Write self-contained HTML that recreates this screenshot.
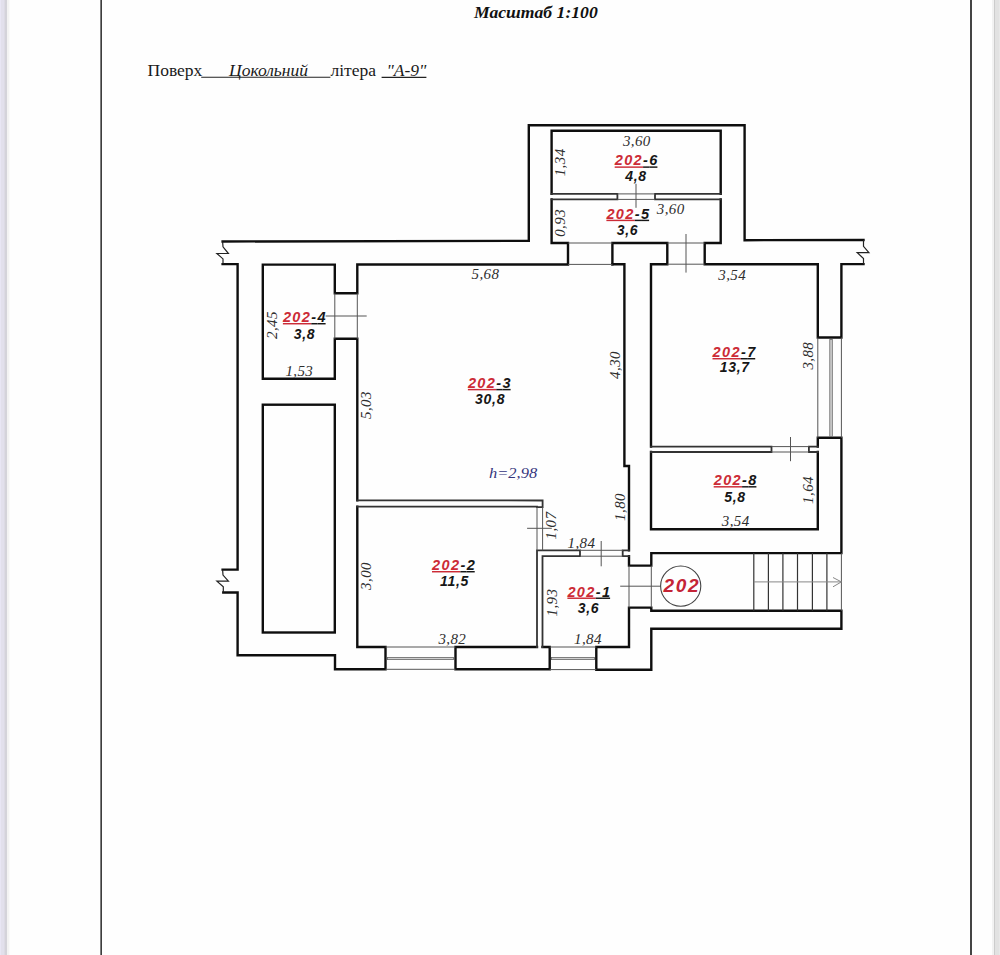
<!DOCTYPE html>
<html><head><meta charset="utf-8"><title>Plan</title>
<style>
html,body{margin:0;padding:0;background:#fefefe;}
body{width:1000px;height:955px;overflow:hidden;position:relative;}
svg{position:absolute;left:0;top:0;}
.w{fill:none;stroke:#0e0e0e;stroke-width:2.4;stroke-linejoin:miter;stroke-linecap:square;}
.p{fill:none;stroke:#333;stroke-width:1.8;stroke-linejoin:miter;stroke-linecap:square;}
.t{fill:none;stroke:#555;stroke-width:1;}
.z{fill:none;stroke:#222;stroke-width:1.2;stroke-linejoin:miter;}
.dim{font-family:"Liberation Serif",serif;font-style:italic;font-size:15px;letter-spacing:0.4px;fill:#2e2e2e;}
.lab{font-family:"Liberation Sans",sans-serif;font-style:italic;font-weight:bold;font-size:14.5px;letter-spacing:1.4px;}
.lab tspan{text-decoration:underline;}
.ar{font-size:14px;letter-spacing:0.7px;}
.red{fill:#cc2b36;}
.blk{fill:#161616;}
</style></head>
<body>
<svg width="1000" height="955" viewBox="0 0 1000 955">
<!-- page edges -->
<rect x="0" y="0" width="1" height="955" fill="#e8e6f4"/>
<rect x="1" y="0" width="3" height="955" fill="#e2e0ec"/>
<rect x="4" y="0" width="1" height="955" fill="#dcdae4"/>
<rect x="5" y="0" width="2" height="955" fill="#d4d3da"/>
<rect x="7" y="0" width="2" height="955" fill="#f3f3f3"/>
<rect x="9" y="0" width="1" height="955" fill="#fafafa"/>
<rect x="992" y="0" width="2" height="955" fill="#f2f2f2"/>
<rect x="994" y="0" width="1" height="955" fill="#cccccc"/>
<rect x="995" y="0" width="4" height="955" fill="#e2e2e2"/>
<rect x="999" y="0" width="1" height="955" fill="#e8e8e8"/>
<rect x="100.4" y="0" width="1.5" height="955" fill="#2a2a2a"/>
<rect x="970" y="0" width="2" height="955" fill="#444"/>

<!-- header -->
<text transform="translate(474,18.2) scale(1.09,1)" font-family="Liberation Serif" font-weight="bold" font-style="italic" font-size="16.2" fill="#111">Масштаб 1:100</text>
<text x="147.5" y="75.6" font-family="Liberation Serif" font-size="17.5" fill="#1a1a1a">Поверх</text>
<text x="229" y="75.6" font-family="Liberation Serif" font-style="italic" font-size="17.5" fill="#1a1a1a">Цокольний</text>
<text x="330.5" y="75.6" font-family="Liberation Serif" font-size="17.5" fill="#1a1a1a">літера</text>
<text x="386.5" y="75.6" font-family="Liberation Serif" font-style="italic" font-size="17.5" fill="#1a1a1a">"А-9"</text>
<line x1="201.2" y1="77.2" x2="330.4" y2="77.2" stroke="#222" stroke-width="1.1"/>
<line x1="381.6" y1="77.4" x2="426.4" y2="77.4" stroke="#222" stroke-width="1.1"/>

<!-- thick walls -->
<path class="w" d="M222.6,241.5 L528.8,240.8 L528.8,125.2 L744.6,125.1 L744.6,240.2 L863.5,240.0"/>
<path class="w" d="M863.5,264.1 L841.4,264.1 L841.4,337.5 L817.8,337.5 L817.8,264.2 L704.7,264.2 L704.7,243 L720.7,243 L720.7,199.4"/>
<path class="w" d="M720.7,193.9 L720.7,130.7 L551.6,130.7 L551.6,193.9"/>
<path class="w" d="M551.6,199.4 L551.6,243 L568,243 L568,264.5 L357.3,264.5 L357.3,293.3 L334.8,293.3 L334.8,264.6 L262.8,264.6 L262.8,378.8 L334.8,378.8 L334.8,338.8 L357.3,338.8 L357.3,500.3"/>
<path class="w" d="M222.6,264.1 L237.6,264.1 L237.6,569.6 L222.6,569.6"/>
<path class="w" d="M223.3,592.5 L237.6,592.5 L237.6,655.3 L335,655.3 L335,669.3 L385.5,669.3 L385.5,647 L357.3,647 L357.3,506.6"/>
<rect class="w" x="262.8" y="404.7" width="72" height="227.8"/>
<path class="w" d="M537,647 L455.5,647 L455.5,669.3 L549.7,669.3 L549.7,647 L542.5,647"/>
<path class="w" d="M612.4,264.2 L612.4,243 L667.3,243 L667.3,264.2 L651,264.2 L651,446.6"/>
<path class="w" d="M651,452 L651,529.2 L817.8,529.2 L817.8,452"/>
<path class="w" d="M817.8,446.6 L817.8,437.8 L841.4,437.8 L841.4,553.1 L651.3,553.1 L651.3,565.6 L629,565.6 L629,556.2"/>
<path class="w" d="M629,550.3 L629,466 L624.4,466 L624.4,264.2 L612.4,264.2"/>
<path class="w" d="M629,607.6 L651.3,607.6 L651.3,610.7 L841.4,610.7 L841.4,628.8 L651.3,628.8 L651.3,669.8 L596.3,669.8 L596.3,647 L629,647 Z"/>
<!-- partitions -->
<path class="p" d="M720.7,199.4 L655,199.4 L655,193.9 L720.7,193.9"/>
<path class="p" d="M551.6,193.9 L617.4,193.9 L617.4,199.4 L551.6,199.4"/>
<path class="p" d="M357.3,500.3 L542.6,500.5 L542.6,507.2 L537,507.2"/>
<path class="p" d="M357.3,506.6 L537,506.6"/>
<path class="p" d="M651,446.6 L771.5,446.6 L771.5,452 L651,452"/>
<path class="p" d="M817.8,446.6 L808.9,446.6 L808.9,452 L817.8,452"/>
<path class="p" d="M537,647 L537,550.3 L580,550.3 L580,556.2 L542.5,556.2 L542.5,647"/>
<path class="p" d="M629,550.3 L622.7,550.3 L622.7,556.2 L629,556.2"/>

<!-- break zigzags -->
<path class="z" d="M222.6,241.5 L223,246.8 L228.4,253.5 L216.9,253.5 L223,258.9 L223,264.1"/>
<path class="z" d="M863.5,240 L863.5,246.3 L868.9,252.6 L857.2,252.6 L863.5,258.5 L863.5,264.1"/>
<path class="z" d="M222.6,569.6 L223,575.1 L228.4,581.2 L216.9,581.2 L223.3,586.8 L223.3,592.5"/>

<!-- thin door/window lines -->
<g class="t">
<line x1="617.4" y1="193.9" x2="655" y2="193.9"/><line x1="617.4" y1="199.4" x2="655" y2="199.4"/>
<line x1="636" y1="183.8" x2="636" y2="207.8"/>
<line x1="568" y1="243" x2="612.4" y2="243"/><line x1="568" y1="264.4" x2="612.4" y2="264.4"/>
<line x1="667.3" y1="243" x2="704.7" y2="243"/><line x1="667.3" y1="264.2" x2="704.7" y2="264.2"/>
<line x1="686" y1="234" x2="686" y2="272.6"/>
<line x1="334.8" y1="293.3" x2="334.8" y2="338.8"/><line x1="357.3" y1="293.3" x2="357.3" y2="338.8"/>
<line x1="325.6" y1="316" x2="366.7" y2="316"/>
<line x1="771.5" y1="446.6" x2="808.9" y2="446.6"/><line x1="771.5" y1="452" x2="808.9" y2="452"/>
<line x1="790.5" y1="437" x2="790.5" y2="461.2"/>
<line x1="537" y1="507.2" x2="537" y2="550.3"/><line x1="542.6" y1="507.2" x2="542.6" y2="550.3"/>
<line x1="527.1" y1="528.3" x2="551.8" y2="528.3"/>
<line x1="580" y1="550.3" x2="622.7" y2="550.3"/><line x1="580" y1="556.2" x2="622.7" y2="556.2"/>
<line x1="601.2" y1="541" x2="601.2" y2="566.3"/>
<line x1="629" y1="565.6" x2="629" y2="607.6"/><line x1="651.3" y1="565.6" x2="651.3" y2="607.6"/>
<line x1="620.2" y1="586.2" x2="660.6" y2="586.2"/>
<line x1="385.5" y1="647" x2="455.5" y2="647"/><line x1="385.5" y1="669.3" x2="455.5" y2="669.3"/>
<line x1="549.7" y1="647" x2="596.3" y2="647"/><line x1="549.7" y1="669.6" x2="596.3" y2="669.6"/>
<line x1="817.8" y1="337.5" x2="817.8" y2="437.8"/><line x1="841.4" y1="337.5" x2="841.4" y2="437.8"/>
<line x1="841.4" y1="553.1" x2="841.4" y2="610.7"/>
</g>
<!-- window glass -->
<rect x="387.5" y="657.4" width="66" height="2.2" fill="#d0d0d0" stroke="#666" stroke-width="0.8"/>
<rect x="551.5" y="657.4" width="43" height="2.2" fill="#d0d0d0" stroke="#666" stroke-width="0.8"/>
<rect x="829.8" y="339.5" width="2.5" height="97" fill="#d0d0d0" stroke="#666" stroke-width="0.8"/>

<!-- stairs -->
<g stroke="#333" stroke-width="1.2">
<line x1="753.8" y1="553.1" x2="753.8" y2="610.7"/>
<line x1="768.4" y1="553.1" x2="768.4" y2="610.7"/>
<line x1="782.9" y1="553.1" x2="782.9" y2="610.7"/>
<line x1="797.5" y1="553.1" x2="797.5" y2="610.7"/>
<line x1="812.4" y1="553.1" x2="812.4" y2="610.7"/>
<line x1="826.9" y1="553.1" x2="826.9" y2="610.7"/>
</g>
<g stroke="#888" stroke-width="1" fill="none">
<line x1="753.8" y1="581.9" x2="841.4" y2="581.9"/>
<path d="M833,577.5 L841.4,581.9 L833,586.8"/>
</g>
<circle cx="680.7" cy="586.1" r="20.1" fill="none" stroke="#444" stroke-width="1.1"/>
<text x="663.6" y="592.2" style="font-family:'Liberation Sans',sans-serif;font-style:italic;font-weight:bold;font-size:19px;letter-spacing:1.6px;fill:#c42436">202</text>

<!-- room labels -->
<g class="lab">
<text x="614.7" y="165.4"><tspan class="red">202</tspan><tspan class="blk">-</tspan><tspan class="blk" style="letter-spacing:0">6</tspan></text>
<text x="625.3" y="180.9" class="blk ar">4,8</text>
<text x="606.4" y="218.7"><tspan class="red">202</tspan><tspan class="blk">-</tspan><tspan class="blk" style="letter-spacing:0">5</tspan></text>
<text x="616.8" y="235" class="blk ar">3,6</text>
<text x="282.9" y="322"><tspan class="red">202</tspan><tspan class="blk">-</tspan><tspan class="blk" style="letter-spacing:0">4</tspan></text>
<text x="293.7" y="339" class="blk ar">3,8</text>
<text x="467.9" y="387.9"><tspan class="red">202</tspan><tspan class="blk">-</tspan><tspan class="blk" style="letter-spacing:0">3</tspan></text>
<text x="475.1" y="403.5" class="blk ar">30,8</text>
<text x="712.5" y="357"><tspan class="red">202</tspan><tspan class="blk">-</tspan><tspan class="blk" style="letter-spacing:0">7</tspan></text>
<text x="719.7" y="372.2" class="blk ar">13,7</text>
<text x="713.7" y="485.1"><tspan class="red">202</tspan><tspan class="blk">-</tspan><tspan class="blk" style="letter-spacing:0">8</tspan></text>
<text x="724.3" y="501.5" class="blk ar">5,8</text>
<text x="432" y="570"><tspan class="red">202</tspan><tspan class="blk">-</tspan><tspan class="blk" style="letter-spacing:0">2</tspan></text>
<text x="440" y="586" class="blk ar">11,5</text>
<text x="567.4" y="596.5"><tspan class="red">202</tspan><tspan class="blk">-</tspan><tspan class="blk" style="letter-spacing:0">1</tspan></text>
<text x="577.7" y="612.6" class="blk ar">3,6</text>
</g>

<!-- dimensions -->
<g class="dim">
<text x="622.9" y="146">3,60</text>
<text x="656.8" y="213.6">3,60</text>
<text x="471.5" y="279">5,68</text>
<text x="718.3" y="280">3,54</text>
<text x="285.4" y="376">1,53</text>
<text x="721.8" y="526">3,54</text>
<text x="567.5" y="547.5">1,84</text>
<text x="574" y="644">1,84</text>
<text x="438.4" y="644">3,82</text>
<text transform="translate(489,478.2) scale(1.1,1)" style="fill:#34347c;letter-spacing:0">h=2,98</text>
<text transform="translate(565,176.3) rotate(-90)">1,34</text>
<text transform="translate(565.2,236.8) rotate(-90)">0,93</text>
<text transform="translate(277,339) rotate(-90)">2,45</text>
<text transform="translate(371.2,419) rotate(-90)">5,03</text>
<text transform="translate(620,378.9) rotate(-90)">4,30</text>
<text transform="translate(813,369.6) rotate(-90)">3,88</text>
<text transform="translate(624.5,520.9) rotate(-90)">1,80</text>
<text transform="translate(556,539.5) rotate(-90)">1,07</text>
<text transform="translate(370.5,589.9) rotate(-90)">3,00</text>
<text transform="translate(556.5,616.5) rotate(-90)">1,93</text>
<text transform="translate(813,503.9) rotate(-90)">1,64</text>
</g>
</svg>
</body></html>
